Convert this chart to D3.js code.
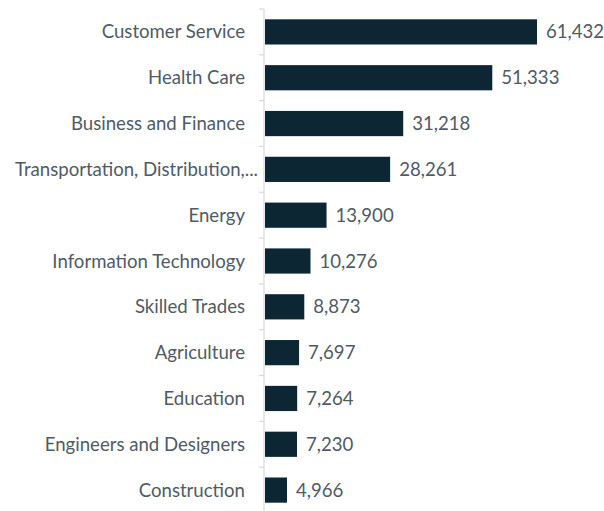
<!DOCTYPE html>
<html>
<head>
<meta charset="utf-8">
<script src="https://cdn.jsdelivr.net/npm/d3@7"></script>
<style>
  body { margin: 0; background: #fff; }
  svg { display: block; }
</style>
</head>
<body>
<div id="chart"></div>
<script>
// Data
const categories = [
    "Customer Service", "Health Care", "Business and Finance",
    "Transportation, Distribution,...", "Energy", "Information Technology",
    "Skilled Trades", "Agriculture", "Education",
    "Engineers and Designers", "Construction"
];
const values = [61432, 51333, 31218, 28261, 13900, 10276, 8873, 7697, 7264, 7230, 4966];

const W = 604, H = 511;
const margin = { top: 9, right: 0, bottom: -2, left: 264 };

const svg = d3.select("#chart")
    .append("svg")
    .attr("width", W)
    .attr("height", H);

const x = d3.scaleLinear()
    .domain([0, 61432])
    .range([margin.left + 1, 537]);

const y = d3.scaleBand()
    .domain(categories)
    .range([margin.top, H - margin.bottom])
    .paddingInner(0.45)
    .paddingOuter(0.225);

// axis line + ticks between categories
const axisG = svg.append("g").attr("transform", `translate(${margin.left},0)`);
axisG.append("line")
    .attr("y1", margin.top).attr("y2", H)
    .attr("stroke", "#d9d9d9").attr("stroke-width", 1.2);

const step = y.step();
const bounds = d3.range(categories.length + 1).map(i => margin.top + i * step);
axisG.selectAll(".tick")
    .data(bounds)
    .enter().append("line")
    .attr("x1", -5).attr("x2", 0)
    .attr("y1", d => d).attr("y2", d => d)
    .attr("stroke", "#d9d9d9").attr("stroke-width", 1.2);

const font = "Lato, 'Open Sans', sans-serif";

// category labels
svg.selectAll(".cat")
    .data(categories)
    .enter().append("text")
    .attr("class", "cat")
    .attr("x", (d, i) => i === 3 ? 258 : 245)
    .attr("y", d => y(d) + y.bandwidth() / 2)
    .attr("dy", "0.35em")
    .attr("text-anchor", "end")
    .style("font-family", font)
    .style("font-size", "18.6px")
    .attr("fill", "#4f5b63")
    .text(d => d);

// bars
svg.selectAll(".bar")
    .data(categories)
    .enter().append("rect")
    .attr("class", "bar")
    .attr("x", x(0))
    .attr("y", d => y(d))
    .attr("width", (d, i) => x(values[i]) - x(0))
    .attr("height", y.bandwidth())
    .attr("fill", "#0c2733");

// value labels
svg.selectAll(".val")
    .data(categories)
    .enter().append("text")
    .attr("class", "val")
    .attr("x", (d, i) => x(values[i]) + 9)
    .attr("y", d => y(d) + y.bandwidth() / 2)
    .attr("dy", "0.35em")
    .style("font-family", font)
    .style("font-size", "18.6px")
    .attr("fill", "#4f5b63")
    .text((d, i) => d3.format(",")(values[i]));
</script>
</body>
</html>
